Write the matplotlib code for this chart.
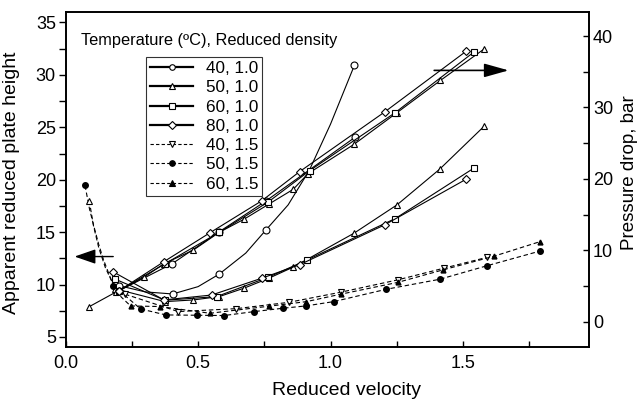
import numpy as np
import matplotlib.pyplot as plt
from matplotlib.lines import Line2D
from matplotlib.ticker import MultipleLocator

plt.rcParams['font.family'] = ['Liberation Sans', 'DejaVu Sans']

# reduced plate height (left axis), density 1.0
h40_x = [0.20, 0.404, 0.58, 0.756, 1.09]
h40_y = [9.9, 9.1, 11.0, 15.2, 30.9]
# points along the drawn 40,1.0 curve
h40_cx = [0.20, 0.30, 0.404, 0.50, 0.58, 0.68, 0.756, 0.84, 0.92, 1.00, 1.09]
h40_cy = [9.9, 9.3, 9.1, 9.8, 11.0, 13.0, 15.2, 17.6, 20.9, 25.3, 30.9]
h50_x = [0.186, 0.375, 0.482, 0.58, 0.673, 0.767, 0.859, 1.089, 1.251, 1.412, 1.58]
h50_y = [9.6, 8.37, 8.53, 8.85, 9.65, 10.6, 11.66, 14.9, 17.6, 21.0, 25.1]
h60_x = [0.188, 0.375, 0.57, 0.765, 0.912, 1.245, 1.541]
h60_y = [10.5, 8.5, 8.85, 10.7, 12.35, 16.3, 21.1]
h80_x = [0.18, 0.371, 0.551, 0.74, 0.884, 1.205, 1.513]
h80_y = [11.2, 8.53, 9.0, 10.6, 11.9, 15.7, 20.06]

# reduced plate height (left axis), density 1.5
h40b_x = [0.224, 0.425, 0.645, 0.842, 1.039, 1.253, 1.428, 1.592]
h40b_y = [9.08, 7.42, 7.7, 8.3, 9.27, 10.44, 11.56, 12.6]
h50b_x = [0.073, 0.18, 0.283, 0.378, 0.497, 0.597, 0.712, 0.821, 0.907, 1.012, 1.211, 1.412, 1.592, 1.792]
h50b_y = [19.45, 9.9, 7.67, 7.1, 7.07, 7.04, 7.42, 7.74, 7.96, 8.37, 9.55, 10.5, 11.8, 13.2]
# steep start of the 50,1.5 curve
h50b_cx = [0.073, 0.09, 0.107, 0.125, 0.143, 0.18]
h50b_cy = [19.45, 17.2, 15.5, 13.8, 12.35, 9.9]
h60b_x = [0.089, 0.245, 0.356, 0.545, 0.767, 0.909, 1.039, 1.253, 1.425, 1.617, 1.792]
h60b_y = [18.0, 7.96, 7.9, 7.26, 7.93, 8.37, 9.08, 10.2, 11.4, 12.7, 14.1]
h60b_cx = [0.089, 0.105, 0.125, 0.15, 0.18, 0.21, 0.245]
h60b_cy = [18.0, 15.6, 13.5, 11.6, 10.0, 8.8, 7.96]

# pressure drop, bar (right axis), density 1.0
p40_x = [0.20, 0.402, 0.58, 0.756, 1.094]
p40_y = [4.31, 8.12, 12.6, 16.9, 25.86]
p50_x = [0.089, 0.19, 0.295, 0.371, 0.482, 0.58, 0.673, 0.768, 0.859, 0.915, 1.089, 1.25, 1.415, 1.58]
p50_y = [2.11, 4.16, 6.21, 8.12, 10.03, 12.52, 14.34, 16.48, 18.53, 20.73, 24.84, 29.24, 33.78, 38.18]
p60_x = [0.20, 0.375, 0.58, 0.765, 0.922, 1.243, 1.541]
p60_y = [4.31, 8.12, 12.52, 16.77, 21.17, 29.24, 37.74]
p80_x = [0.20, 0.371, 0.545, 0.74, 0.884, 1.205, 1.513]
p80_y = [4.31, 8.41, 12.46, 16.92, 21.03, 29.38, 37.89]

labels = ['40, 1.0', '50, 1.0', '60, 1.0', '80, 1.0', '40, 1.5', '50, 1.5', '60, 1.5']
markers = ['o', '^', 's', 'D', 'v', 'o', '^']

fig = plt.figure(figsize=(6.39, 3.99), dpi=100)
ax = fig.add_axes([0.1028, 0.1303, 0.8185, 0.8396])
ax2 = ax.twinx()

lw = 0.8
dash = (0, (4, 2.5))
mk = dict(mfc='white', mec='black', mew=0.8)

# solid curves, density 1.0
ax.plot(h40_cx, h40_cy, color='black', lw=lw)
ax.plot(h40_x, h40_y, ls='none', marker='o', ms=5, **mk)
ax.plot(h50_x, h50_y, color='black', lw=lw, marker='^', ms=5, **mk)
ax.plot(h60_x, h60_y, color='black', lw=lw, marker='s', ms=4.5, **mk)
ax.plot(h80_x, h80_y, color='black', lw=lw, marker='D', ms=3.8, **mk)

ax2.plot(p40_x, p40_y, color='black', lw=lw, marker='o', ms=5, **mk)
ax2.plot(p50_x, p50_y, color='black', lw=lw, marker='^', ms=5, **mk)
ax2.plot(p60_x, p60_y, color='black', lw=lw, marker='s', ms=4.5, **mk)
ax2.plot(p80_x, p80_y, color='black', lw=lw, marker='D', ms=3.8, **mk)

# dashed curves, density 1.5
ax.plot(h40b_x, h40b_y, ls=dash, marker='v', ms=5, color='black', lw=lw, **mk)
ax.plot(h50b_cx, h50b_cy, ls=dash, color='black', lw=lw)
ax.plot(h50b_x[1:], h50b_y[1:], ls=dash, color='black', lw=lw)
ax.plot(h50b_x, h50b_y, ls='none', marker='o', ms=4, color='black')
ax.plot(h60b_cx, h60b_cy, ls=dash, color='black', lw=lw)
ax.plot(h60b_x[1:], h60b_y[1:], ls=dash, marker='^', ms=3.5, color='black', lw=lw)
ax.plot(h60b_x[:1], h60b_y[:1], ls='none', marker='^', ms=5, **mk)

ax.set_xlim(0, 1.975)
ax.set_ylim(4.04, 36.0)
ax2.set_ylim(-3.54, 43.36)

ax.xaxis.set_major_locator(MultipleLocator(0.5))
ax.xaxis.set_minor_locator(MultipleLocator(0.25))
ax.yaxis.set_major_locator(MultipleLocator(5))
ax.yaxis.set_minor_locator(MultipleLocator(2.5))
ax2.yaxis.set_major_locator(MultipleLocator(10))
ax2.yaxis.set_minor_locator(MultipleLocator(5))
ax.xaxis.set_major_formatter(plt.FuncFormatter(lambda v, p: f'{v:.1f}'))

ax.tick_params(axis='x', which='both', direction='in', length=4, width=1, labelsize=13, pad=6)
ax.tick_params(axis='y', which='both', direction='out', length=5, width=1, labelsize=13, pad=2)
ax2.tick_params(axis='y', which='both', direction='in', length=4, width=1, labelsize=13, pad=3)
for a in (ax, ax2):
    for s in a.spines.values():
        s.set_linewidth(1.2)

ax.set_xlabel('Reduced velocity', fontsize=14)
ax.xaxis.set_label_coords(0.537, -0.105)
ax.set_ylabel('Apparent reduced plate height', fontsize=14)
ax.yaxis.set_label_coords(-0.088, 0.49)
ax2.set_ylabel('Pressure drop, bar', fontsize=13.5)
ax2.yaxis.set_label_coords(1.062, 0.52)

ax.text(0.03, 0.915, 'Temperature (ºC), Reduced density', transform=ax.transAxes,
        fontsize=11.8, va='center', ha='left')

# axis arrows
ax.annotate('', xy=(0.023, 12.67), xytext=(0.19, 12.67),
            arrowprops=dict(arrowstyle='-|>,head_length=1.3,head_width=0.45', color='black', lw=1))
ax.annotate('', xy=(1.683, 30.43), xytext=(1.381, 30.43),
            arrowprops=dict(arrowstyle='-|>,head_length=1.5,head_width=0.42', color='black', lw=1.2))

handles = []
for i, (lab, m) in enumerate(zip(labels, markers)):
    if i < 4:
        h = Line2D([], [], color='black', lw=1.6, marker=m, ms=4, mfc='white', mew=0.8)
    else:
        fill = 'white' if m == 'v' else 'black'
        h = Line2D([], [], color='black', lw=0.8, ls=(0, (3, 2)), marker=m, ms=4, mfc=fill, mew=0.8)
    handles.append(h)
leg = ax.legend(handles, labels, loc='upper left', bbox_to_anchor=(0.1535, 0.8666),
                borderaxespad=0, fontsize=12.3, frameon=True, fancybox=False,
                handlelength=2.5, handletextpad=0.75, labelspacing=0.25, borderpad=0.25)
leg.get_frame().set_edgecolor('black')
leg.get_frame().set_linewidth(0.8)

fig.savefig('out.png', dpi=100)
